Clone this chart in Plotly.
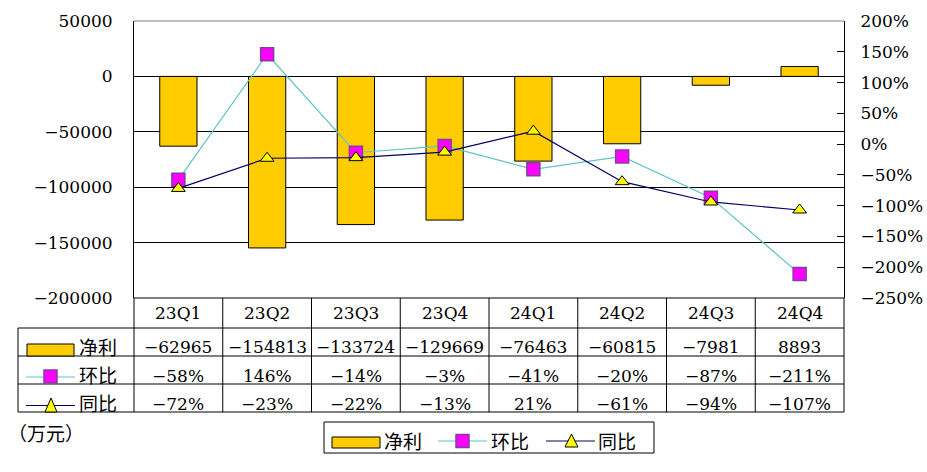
import plotly.graph_objects as go

# ---------------- data ----------------
quarters = ["23Q1", "23Q2", "23Q3", "23Q4", "24Q1", "24Q2", "24Q3", "24Q4"]
net_profit = [-62965, -154813, -133724, -129669, -76463, -60815, -7981, 8893]   # 万元
qoq_pct = [-58, 146, -14, -3, -41, -20, -87, -211]    # 环比 %
yoy_pct = [-72, -23, -22, -13, 21, -61, -94, -107]    # 同比 %
series_names = ["净利", "环比", "同比"]
unit_label = "（万元）"

# ---------------- styles ----------------
W, H = 927, 472
L, R, T, B = 134, 844, 21, 298
BAR_C = "#FFCC00"
QOQ_LINE = "#5FC4C4"
QOQ_MK = "#FF00FF"
QOQ_MK_LINE = "#7F3F9F"
YOY_LINE = "#000066"
YOY_MK = "#FFFF00"
FONT = "DejaVu Serif"
CJK = "Noto Sans CJK SC"
FS = 17
FS_CJK = 19


def px(X):
    return (X - L) / (R - L)


def py(Y):
    return (B - Y) / (B - T)


def fmt(v, suffix=""):
    s = f"{v}{suffix}"
    return s.replace("-", "\u2212")


fig = go.Figure()
fig.add_trace(go.Bar(
    x=quarters, y=net_profit, name=series_names[0],
    marker=dict(color=BAR_C, line=dict(color="black", width=1)),
))
fig.add_trace(go.Scatter(
    x=quarters, y=qoq_pct, name=series_names[1], yaxis="y2", mode="lines+markers",
    line=dict(color=QOQ_LINE, width=1.2),
    marker=dict(symbol="square", size=13, color=QOQ_MK, line=dict(color=QOQ_MK_LINE, width=1.5)),
))
fig.add_trace(go.Scatter(
    x=quarters, y=yoy_pct, name=series_names[2], yaxis="y2", mode="lines+markers",
    line=dict(color=YOY_LINE, width=1.2),
    marker=dict(symbol="triangle-up", size=12, color=YOY_MK, line=dict(color="black", width=1)),
))

shapes = []
annotations = []


def note(x, y, text, family, xref="paper", xanchor="center", size=FS):
    annotations.append(dict(x=x, xref=xref, y=y, yref="paper", text=text, showarrow=False,
                            xanchor=xanchor, yanchor="middle",
                            font=dict(family=family, size=size, color="black")))


# top border of plot area (grey)
shapes.append(dict(type="line", xref="paper", yref="paper", x0=0, x1=1, y0=1, y1=1,
                   line=dict(color="#808080", width=1)))

# ---- data table grid ----
row_bounds = [298, 328, 356, 384, 412]
shapes.append(dict(type="line", xref="paper", yref="paper", x0=0, x1=1,
                   y0=py(298), y1=py(298), line=dict(color="black", width=1)))
for Y in row_bounds[1:]:
    shapes.append(dict(type="line", xref="paper", yref="paper", x0=px(18), x1=1,
                       y0=py(Y), y1=py(Y), line=dict(color="black", width=1)))
shapes.append(dict(type="line", xref="paper", yref="paper", x0=px(18), x1=px(18),
                   y0=py(328), y1=py(412), line=dict(color="black", width=1)))
shapes.append(dict(type="line", xref="paper", yref="paper", x0=0, x1=0,
                   y0=py(298), y1=py(412), line=dict(color="black", width=1)))
shapes.append(dict(type="line", xref="paper", yref="paper", x0=1, x1=1,
                   y0=py(298), y1=py(412), line=dict(color="black", width=1)))
for k in range(1, len(quarters)):
    shapes.append(dict(type="line", xref="x", yref="paper", x0=k - 0.5, x1=k - 0.5,
                       y0=py(298), y1=py(412), line=dict(color="black", width=1)))

# table text
header_y, row_y = 312.5, [347, 375.5, 403.5]
for i, q in enumerate(quarters):
    note(q, py(header_y), q, FONT, xref="x")
    note(q, py(row_y[0]), fmt(net_profit[i]), FONT, xref="x")
    note(q, py(row_y[1]), fmt(qoq_pct[i], "%"), FONT, xref="x")
    note(q, py(row_y[2]), fmt(yoy_pct[i], "%"), FONT, xref="x")

# legend keys inside table
shapes.append(dict(type="rect", xref="paper", yref="paper", x0=px(27), x1=px(74),
                   y0=py(356), y1=py(344), fillcolor=BAR_C, line=dict(color="black", width=1)))
shapes.append(dict(type="line", xref="paper", yref="paper", x0=px(26), x1=px(75),
                   y0=py(377), y1=py(377), line=dict(color=QOQ_LINE, width=1.2)))
shapes.append(dict(type="rect", xref="paper", yref="paper", x0=px(44), x1=px(57),
                   y0=py(383), y1=py(370), fillcolor=QOQ_MK, line=dict(color=QOQ_MK_LINE, width=1.5)))
shapes.append(dict(type="line", xref="paper", yref="paper", x0=px(26), x1=px(75),
                   y0=py(405.5), y1=py(405.5), line=dict(color=YOY_LINE, width=1.2)))
shapes.append(dict(type="path", xref="paper", yref="paper",
                   path=f"M {px(45)},{py(412)} L {px(57)},{py(412)} L {px(51)},{py(398)} Z",
                   fillcolor=YOY_MK, line=dict(color="black", width=1)))
for name, Y in zip(series_names, [346, 374, 402]):
    note(px(98), py(Y), name, CJK, size=FS_CJK)

# ---- bottom legend box ----
shapes.append(dict(type="rect", xref="paper", yref="paper", x0=px(324), x1=px(654),
                   y0=py(453), y1=py(422), line=dict(color="black", width=1), fillcolor="rgba(0,0,0,0)"))
shapes.append(dict(type="rect", xref="paper", yref="paper", x0=px(332), x1=px(380),
                   y0=py(448), y1=py(437), fillcolor=BAR_C, line=dict(color="black", width=1)))
shapes.append(dict(type="line", xref="paper", yref="paper", x0=px(438), x1=px(487),
                   y0=py(441), y1=py(441), line=dict(color=QOQ_LINE, width=1.2)))
shapes.append(dict(type="rect", xref="paper", yref="paper", x0=px(456), x1=px(469),
                   y0=py(447.5), y1=py(434.5), fillcolor=QOQ_MK, line=dict(color=QOQ_MK_LINE, width=1.5)))
shapes.append(dict(type="line", xref="paper", yref="paper", x0=px(546), x1=px(595),
                   y0=py(441), y1=py(441), line=dict(color=YOY_LINE, width=1.2)))
shapes.append(dict(type="path", xref="paper", yref="paper",
                   path=f"M {px(565)},{py(447)} L {px(578)},{py(447)} L {px(571.5)},{py(434)} Z",
                   fillcolor=YOY_MK, line=dict(color="black", width=1)))
for name, X in zip(series_names, [403, 510, 617]):
    note(px(X), py(440), name, CJK, size=FS_CJK)

note(px(6), py(432), unit_label, CJK, xanchor="left", size=FS_CJK)

fig.update_layout(
    width=W, height=H,
    margin=dict(l=L, r=W - R, t=T, b=H - B, pad=0, autoexpand=False),
    paper_bgcolor="white", plot_bgcolor="white",
    showlegend=False,
    bargap=0.58,
    font=dict(family=FONT, size=FS, color="black"),
    xaxis=dict(type="category", range=[-0.5, len(quarters) - 0.5], showticklabels=False,
               showgrid=False, showline=False, zeroline=False, ticks="", automargin=False),
    yaxis=dict(range=[-200000, 50000], dtick=50000, tickformat="d", showgrid=True,
               gridcolor="black", gridwidth=1, zeroline=False, showline=True, linecolor="black",
               linewidth=1, ticks="inside", ticklen=7, tickcolor="black", ticklabelstandoff=17,
               automargin=False, tickfont=dict(family=FONT, size=FS, color="black")),
    yaxis2=dict(range=[-250, 200], dtick=50, ticksuffix="%", overlaying="y", side="right",
                showgrid=False, zeroline=False, showline=True, linecolor="black", linewidth=1,
                ticks="inside", ticklen=7, tickcolor="black", ticklabelstandoff=12,
                automargin=False, tickfont=dict(family=FONT, size=FS, color="black")),
    shapes=shapes,
    annotations=annotations,
)

fig.write_html("out.html", config={"displayModeBar": False},
               post_script="document.body.style.margin='0px';")
